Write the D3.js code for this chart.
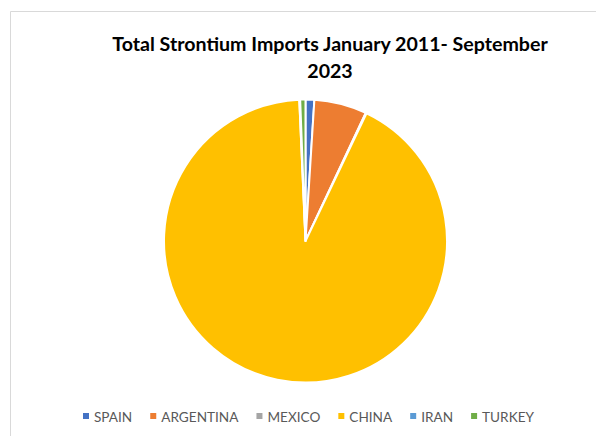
<!DOCTYPE html>
<html>
<head>
<meta charset="utf-8">
<script src="https://cdn.jsdelivr.net/npm/d3@7"></script>
<style>
  html, body { margin: 0; padding: 0; background: #fff; }
  svg { display: block; }
</style>
</head>
<body>
<svg id="chart" width="596" height="436"></svg>
<script>
const countries = ['SPAIN', 'ARGENTINA', 'MEXICO', 'CHINA', 'IRAN', 'TURKEY'];
const shares = [1.0, 6.0, 0.1, 92.2, 0.1, 0.6];
const colors = ['#4472C4', '#ED7D31', '#A5A5A5', '#FFC000', '#5B9BD5', '#70AD47'];
const titleLines = ['Total Strontium Imports January 2011- September', '2023'];

const W = 596, H = 436;
const CX = 305.5, CY = 241, R = 141.5;

const svg = d3.select('#chart');

// chart area border (cropped at right/bottom in the picture)
svg.append('path')
  .attr('d', `M10.5,${H} V11.5 H${W}`)
  .attr('fill', 'none')
  .attr('stroke', '#d9d9d9')
  .attr('stroke-width', 1);

svg.selectAll('text.title')
  .data(titleLines)
  .join('text')
  .attr('class', 'title')
  .attr('x', 330)
  .attr('y', (d, i) => 51 + i * 27)
  .attr('text-anchor', 'middle')
  .style('font-family', 'Lato, "Open Sans", sans-serif')
  .style('font-weight', 'bold')
  .style('font-size', '19.6px')
  .style('fill', '#000')
  .text(d => d);

const pie = d3.pie().sort(null).value(d => d);
const arc = d3.arc().innerRadius(0).outerRadius(R);

svg.append('g')
  .attr('transform', `translate(${CX},${CY})`)
  .selectAll('path')
  .data(pie(shares))
  .join('path')
  .attr('d', arc)
  .attr('fill', (d, i) => colors[i])
  .attr('stroke', '#fff')
  .attr('stroke-width', 2)
  .attr('stroke-linejoin', 'round');

// legend
const legend = svg.append('g').attr('transform', 'translate(0,422)');
const items = legend.selectAll('g')
  .data(countries)
  .join('g');

items.append('rect')
  .attr('width', 6)
  .attr('height', 6)
  .attr('y', -9)
  .attr('fill', (d, i) => colors[i]);

items.append('text')
  .attr('x', 11)
  .style('font-family', 'Lato, "Open Sans", sans-serif')
  .style('font-size', '13.6px')
  .style('fill', '#595959')
  .text(d => d);

let xPos = 83;
items.each(function () {
  const w = d3.select(this).select('text').node().getComputedTextLength();
  d3.select(this).attr('transform', `translate(${xPos},0)`);
  xPos += 11 + w + 18;
});
</script>
</body>
</html>
